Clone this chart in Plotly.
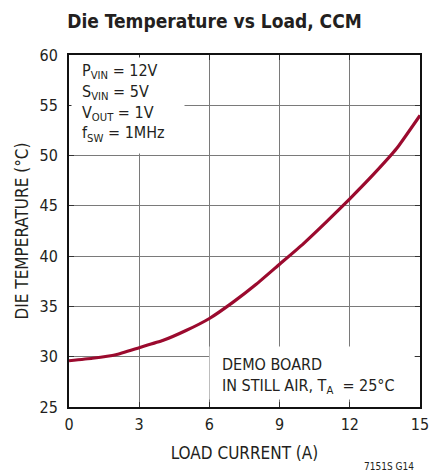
import plotly.graph_objects as go

load_a = [0, 1, 2, 3, 4, 5, 6, 7, 8, 9, 10, 11, 12, 13, 14, 15]
die_temp_c = [29.6, 29.85, 30.2, 30.9, 31.6, 32.6, 33.8, 35.4, 37.2, 39.2, 41.2, 43.4, 45.7, 48.1, 50.7, 54.0]
x_ticks = [0, 3, 6, 9, 12, 15]
y_ticks = [25, 30, 35, 40, 45, 50, 55, 60]

FONT = "DejaVu Sans Condensed, Liberation Sans Narrow, sans-serif"
TXT = "#231f20"

fig = go.Figure()
fig.add_trace(go.Scatter(x=load_a, y=die_temp_c, mode="lines",
                         line=dict(color="#9b0a2e", width=3.2, shape="spline", smoothing=0.4),
                         hoverinfo="skip", showlegend=False))

axis_common = dict(showgrid=True, gridcolor="#7a7a7a", gridwidth=1.3,
                   showline=True, linecolor="#111111", linewidth=2, mirror="ticks",
                   ticks="inside", ticklen=5, tickcolor="#333333", tickwidth=1.3,
                   zeroline=False, automargin=False, ticklabeloverflow="allow",
                   tickfont=dict(size=16, color=TXT, family=FONT))

fig.update_xaxes(range=[0, 15], tickvals=x_ticks, ticklabelstandoff=2,
                 title=dict(text="LOAD CURRENT (A)", font=dict(size=17, color=TXT, family=FONT), standoff=14),
                 **axis_common)
fig.update_yaxes(range=[25, 60], tickvals=y_ticks, ticklabelstandoff=6,
                 title=dict(text="DIE TEMPERATURE (°C)", font=dict(size=17, color=TXT, family=FONT), standoff=7),
                 **axis_common)

# white boxes masking the grid behind the notes
fig.add_annotation(xref="paper", yref="paper", x=0.006, y=0.995, xanchor="left", yanchor="top",
                   showarrow=False, text=" ", width=112, height=95, bgcolor="white", borderpad=0)
fig.add_annotation(xref="paper", yref="paper", x=0.4, y=0.02, xanchor="left", yanchor="bottom",
                   showarrow=False, text=" ", width=204, height=52, bgcolor="white", borderpad=0)

fig.add_annotation(xref="paper", yref="paper", x=0.03, y=0.99, xanchor="left", yanchor="top",
                   align="left", showarrow=False,
                   text="P<sub>VIN</sub> = 12V<br>S<sub>VIN</sub> = 5V<br>V<sub>OUT</sub> = 1V<br>f<sub>SW</sub> = 1MHz",
                   font=dict(size=16, color=TXT, family=FONT))
fig.add_annotation(xref="paper", yref="paper", x=0.43, y=0.154, xanchor="left", yanchor="top",
                   align="left", showarrow=False,
                   text="DEMO BOARD<br>IN STILL AIR, T<sub>A</sub>  = 25°C",
                   font=dict(size=16, color=TXT, family=FONT))
fig.add_annotation(xref="paper", yref="paper", x=0.99, y=-0.17, xanchor="right", yanchor="middle",
                   showarrow=False, text="7151S G14",
                   font=dict(size=10, color=TXT, family=FONT))

fig.update_layout(
    width=429, height=475,
    margin=dict(l=69, r=9, t=55, b=68),
    paper_bgcolor="white", plot_bgcolor="white",
    title=dict(text="<b>Die Temperature vs Load, CCM</b>", x=0.5, xanchor="center",
               y=0.955, yanchor="middle", font=dict(size=19, color=TXT, family=FONT)),
)

fig.write_html("out.html", config={"displayModeBar": False},
               post_script="document.body.style.margin='0';document.body.style.overflow='hidden';")
